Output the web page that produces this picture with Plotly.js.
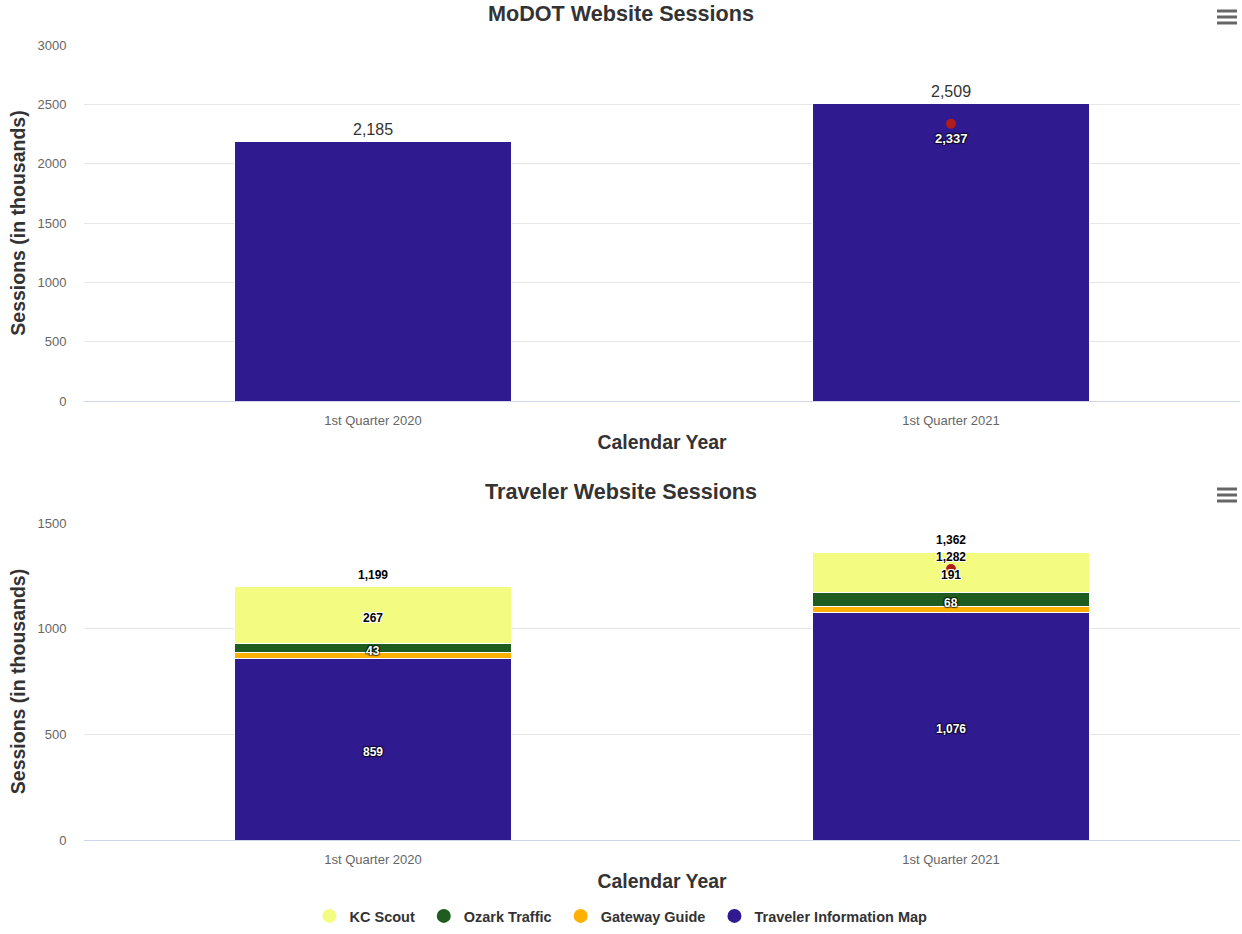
<!DOCTYPE html>
<html>
<head>
<meta charset="utf-8">
<script src="https://cdn.plot.ly/plotly-3.0.1.min.js"></script>
<style>html,body{margin:0;padding:0;background:#fff;}#chart{width:1242px;height:934px;}</style>
</head>
<body>
<div id="chart"></div>
<script>
// ---- Data ----
const categories = ['1st Quarter 2020', '1st Quarter 2021'];
const modotSessions = [2185, 2509];
const modotMarker = [null, 2337];
const kcScout = [267, 191];
const ozarkTraffic = [43, 68];
const gatewayGuide = [30, 27];
const travelerInfoMap = [859, 1076];
const travelerTotal = [1199, 1362];
const travelerMarker = [null, 1282];
const seriesNames = ['KC Scout', 'Ozark Traffic', 'Gateway Guide', 'Traveler Information Map'];

const fmt = v => (v === null || v === undefined) ? '' : v.toLocaleString('en-US');

// ---- Styles ----
const FONT = 'Liberation Sans, Arial, Helvetica, sans-serif';
const C_TIM = '#2f1b8f';
const C_GATE = '#ffb000';
const C_OZARK = '#1e5c20';
const C_KC = '#f3fc80';
const C_DOT = '#b01c1c';
const whiteOutline = '1px 1px 0 #fff, -1px -1px 0 #fff, 1px -1px 0 #fff, -1px 1px 0 #fff';
const darkOutline = '1px 1px 1px rgba(0,0,0,0.55), -1px -1px 1px rgba(0,0,0,0.55), 1px -1px 1px rgba(0,0,0,0.55), -1px 1px 1px rgba(0,0,0,0.55)';

const barLine = {color: '#ffffff', width: 1};
const traces = [];
const annotations = [];

function label(xref, yref, x, y, text, yshift, font) {
  if (y === null || y === undefined) return;
  annotations.push({xref: xref, yref: yref, x: x, y: y, text: text, showarrow: false,
    xanchor: 'center', yanchor: 'middle', yshift: yshift, font: font});
}

// Top chart
traces.push({type: 'bar', x: categories, y: modotSessions, xaxis: 'x', yaxis: 'y',
  marker: {color: C_TIM, line: barLine}, showlegend: false, hoverinfo: 'skip'});
traces.push({type: 'scatter', mode: 'markers', x: categories, y: modotMarker, xaxis: 'x', yaxis: 'y',
  marker: {color: C_DOT, size: 10}, showlegend: false, hoverinfo: 'skip'});
categories.forEach((c, i) => {
  label('x', 'y', c, modotSessions[i], fmt(modotSessions[i]), 12,
    {family: FONT, size: 16, color: '#333333', shadow: whiteOutline});
  label('x', 'y', c, modotMarker[i], fmt(modotMarker[i]), -15,
    {family: FONT, size: 13, color: '#ffffff', weight: 'bold', shadow: darkOutline});
});

// Bottom chart stacked bars
const stackDefs = [
  {name: seriesNames[3], vals: travelerInfoMap, color: C_TIM, show: true, fc: '#ffffff', sh: darkOutline},
  {name: seriesNames[2], vals: gatewayGuide, color: C_GATE, show: false},
  {name: seriesNames[1], vals: ozarkTraffic, color: C_OZARK, show: true, fc: '#ffffff', sh: darkOutline},
  {name: seriesNames[0], vals: kcScout, color: C_KC, show: true, fc: '#000000', sh: whiteOutline}
];
const base = categories.map(() => 0);
stackDefs.forEach(d => {
  traces.push({type: 'bar', name: d.name, x: categories, y: d.vals, xaxis: 'x2', yaxis: 'y2',
    marker: {color: d.color, line: barLine}, showlegend: false, hoverinfo: 'skip'});
  d.vals.forEach((v, i) => {
    if (d.show) {
      label('x2', 'y2', categories[i], base[i] + v / 2, fmt(v), -3,
        {family: FONT, size: 12, color: d.fc, weight: 'bold', shadow: d.sh});
    }
    base[i] += v;
  });
});

traces.push({type: 'scatter', mode: 'markers', x: categories, y: travelerMarker, xaxis: 'x2', yaxis: 'y2',
  marker: {color: C_DOT, size: 10}, showlegend: false, hoverinfo: 'skip'});
categories.forEach((c, i) => {
  label('x2', 'y2', c, travelerTotal[i], fmt(travelerTotal[i]), 12,
    {family: FONT, size: 12, color: '#000000', weight: 'bold', shadow: whiteOutline});
  label('x2', 'y2', c, travelerMarker[i], fmt(travelerMarker[i]), 12,
    {family: FONT, size: 12, color: '#000000', weight: 'bold', shadow: whiteOutline});
});

// Legend entries (circles)
const legendColors = [C_KC, C_OZARK, C_GATE, C_TIM];
seriesNames.forEach((n, i) => {
  const pad = i < seriesNames.length - 1 ? '\u00a0' : '';
  traces.push({type: 'scatter', mode: 'markers', name: n + pad, x: [categories[0]], y: [null], xaxis: 'x2', yaxis: 'y2',
    marker: {color: legendColors[i], size: 14, symbol: 'circle'}, showlegend: true, hoverinfo: 'skip'});
});

// ---- Layout ----
const L = 84, R = 2, T = 45, B = 94, W = 1242, H = 934;
const pw = W - L - R, ph = H - T - B;
const px = x => (x - L) / pw;
const py = y => (H - B - y) / ph;

const xTitle = {text: 'Calendar Year', font: {family: FONT, size: 19.4, color: '#333333', weight: 'bold'}, standoff: 8};
const yTitle = {text: 'Sessions (in thousands)', font: {family: FONT, size: 19.5, color: '#333333', weight: 'bold'}, standoff: 6};
const xCommon = {type: 'category', showgrid: false, showline: true, linecolor: '#ccd6eb', linewidth: 1,
  ticks: 'outside', ticklen: 7, tickcolor: 'rgba(0,0,0,0)', tickfont: {family: FONT, size: 13, color: '#666666'},
  zeroline: false, automargin: false, fixedrange: true};
const yCommon = {showgrid: true, gridcolor: '#e6e6e6', zeroline: false, showline: false, dtick: 500,
  ticks: 'outside', ticklen: 14, tickcolor: 'rgba(0,0,0,0)', tickfont: {family: FONT, size: 13, color: '#666666'},
  automargin: false, fixedrange: true};

const shapes = [];
[[11, 17, 23], [489, 495, 501]].forEach(ys => ys.forEach(y => {
  shapes.push({type: 'line', xref: 'paper', yref: 'paper', x0: px(1217), x1: px(1237), y0: py(y), y1: py(y),
    line: {color: '#666666', width: 3}});
}));

annotations.push(
  {text: 'MoDOT Website Sessions', xref: 'paper', yref: 'paper', x: px(621), y: py(13), xanchor: 'center', yanchor: 'middle',
    showarrow: false, font: {family: FONT, size: 21.6, color: '#333333', weight: 'bold'}},
  {text: 'Traveler Website Sessions', xref: 'paper', yref: 'paper', x: px(621), y: py(491), xanchor: 'center', yanchor: 'middle',
    showarrow: false, font: {family: FONT, size: 21.6, color: '#333333', weight: 'bold'}}
);

const layout = {
  width: W, height: H,
  margin: {l: L, r: R, t: T, b: B},
  paper_bgcolor: '#ffffff', plot_bgcolor: '#ffffff',
  font: {family: FONT, color: '#333333'},
  barmode: 'stack', bargap: 0.52,
  showlegend: true,
  legend: {orientation: 'h', x: px(621), xanchor: 'center', y: py(916), yanchor: 'middle',
    font: {family: FONT, size: 14.5, color: '#333333', weight: 'bold'}, traceorder: 'normal', itemwidth: 30},
  xaxis: Object.assign({}, xCommon, {anchor: 'y', domain: [0, 1], title: xTitle}),
  yaxis: Object.assign({}, yCommon, {anchor: 'x', domain: [py(401), 1], range: [0, 3000], title: yTitle}),
  xaxis2: Object.assign({}, xCommon, {anchor: 'y2', domain: [0, 1], title: xTitle}),
  yaxis2: Object.assign({}, yCommon, {anchor: 'x2', domain: [0, py(523)], range: [0, 1500], title: yTitle}),
  annotations: annotations,
  shapes: shapes,
  hovermode: false
};

Plotly.newPlot('chart', traces, layout, {displayModeBar: false, staticPlot: true});
</script>
</body>
</html>
